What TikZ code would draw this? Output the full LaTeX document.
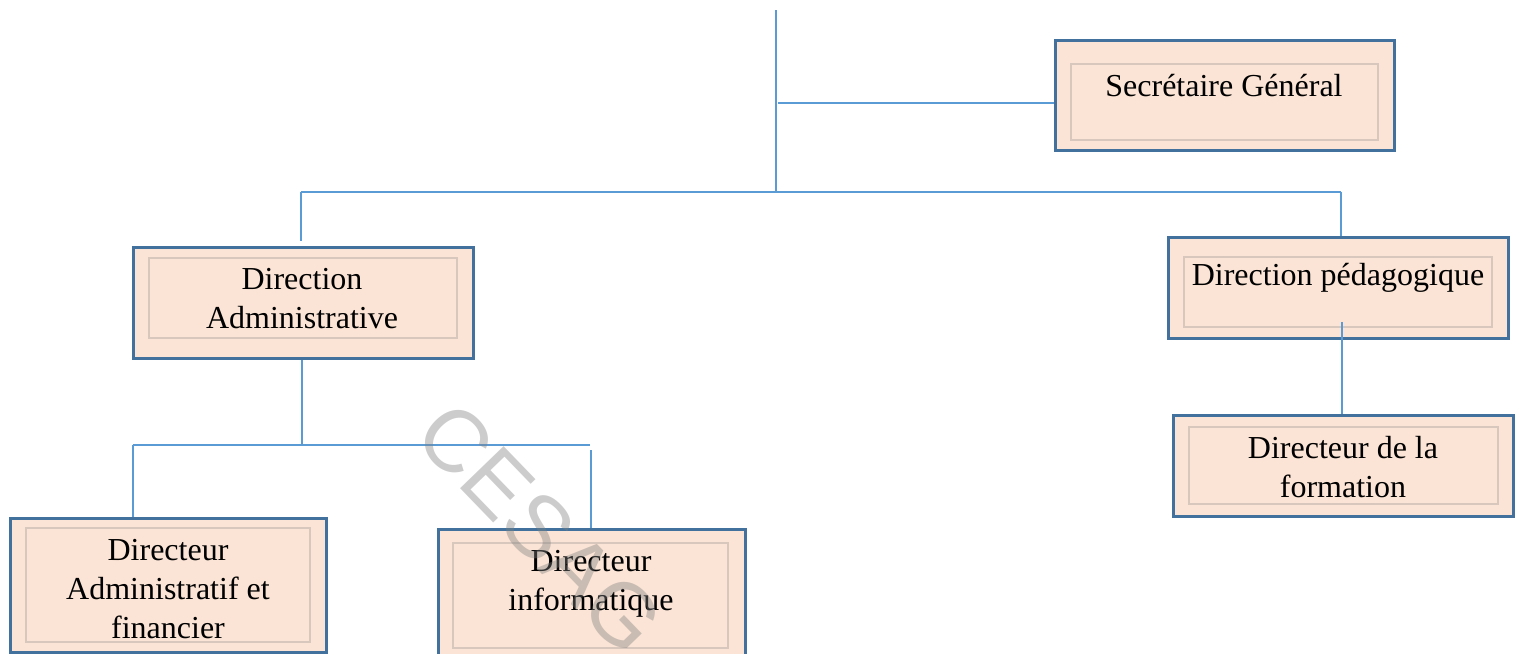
\documentclass[tikz,border=0pt]{standalone}
\usepackage{fontspec}
\setmainfont{Liberation Serif}
\newfontfamily\wmfont{Liberation Sans}
\usetikzlibrary{fit}
\definecolor{boxborder}{HTML}{41719C}
\definecolor{boxfill}{HTML}{FBE4D5}
\definecolor{innerline}{HTML}{D8C7BC}
\definecolor{connline}{HTML}{5B9BD5}
\tikzset{
  obox/.style={draw=boxborder, fill=boxfill, line width=1.5pt, inner sep=0pt},
  ibox/.style={draw=innerline, line width=0.6pt},
  txt/.style={align=center, inner sep=0pt, font=\fontsize{16}{19.5}\selectfont, text=black},
  conn/.style={draw=connline, line width=0.7pt},
  wm/.style={text=gray, opacity=0.4, font=\wmfont\fontsize{44}{44}\selectfont, inner sep=0pt}
}
\begin{document}
\begin{tikzpicture}[x=0.5pt, y=-0.5pt]
\useasboundingbox (0,0) rectangle (1523,654);
% coordinates for connector junctions
\coordinate (top) at (776,10);
\coordinate (bus) at (776,192);
\coordinate (sgj) at (778,103);
\coordinate (busL) at (301,192);
\coordinate (busR) at (1341,192);
\coordinate (daj) at (302,445);
\coordinate (b2L) at (133,445);
\coordinate (b2R) at (590,445);
\coordinate (dij) at (591,450);
\coordinate (dpj) at (1342,322);

% boxes
\node[obox, fit={(1055,40) (1394,150)}] (sg) {};
\draw[ibox] (1071,64) rectangle (1378,140);
\node[txt] (sgt) at (1224,86) {Secrétaire Général};

\node[obox, fit={(133,247) (473,358)}] (da) {};
\draw[ibox] (149,258) rectangle (457,338);
\node[txt] (dat) at (302,299) {Direction\\Administrative};

\node[obox, fit={(1168,237) (1508,338)}] (dp) {};
\draw[ibox] (1184,257) rectangle (1492,327);
\node[txt] (dpt) at (1338,278) {Direction pédagogique};

\node[obox, fit={(1173,415) (1513,516)}] (df) {};
\draw[ibox] (1189,427) rectangle (1498,504);
\node[txt] (dft) at (1343,467) {Directeur de la\\formation};

\node[obox, fit={(10,518) (326,652)}] (daf) {};
\draw[ibox] (26,528) rectangle (310,642);
\node[txt] (daft) at (168,589) {Directeur\\Administratif et\\financier};

\node[obox, fit={(438,529) (745,660)}] (di) {};
\draw[ibox] (453,543) rectangle (728,648);
\node[txt] (dit) at (591,584) {Directeur\\informatique};

% connectors
\draw[conn] (top) -- (bus);
\draw[conn] (sgj) -- (sgj -| sg.west);
\draw[conn] (busL) -- (busR);
\draw[conn] (busL) -- ([yshift=2.5pt]busL |- da.north);
\draw[conn] (busR) -- (busR |- dp.north);
\draw[conn] (da.south -| daj) -- (daj);
\draw[conn] (b2L) -- (b2R);
\draw[conn] (b2L) -- (b2L |- daf.north);
\draw[conn] (dij) -- (dij |- di.north);
\draw[conn] (dpj) -- (dpj |- df.north);

% watermark
\node[wm, rotate=-46] (wmark) at (540,528) {CESAG};
\end{tikzpicture}
\end{document}
